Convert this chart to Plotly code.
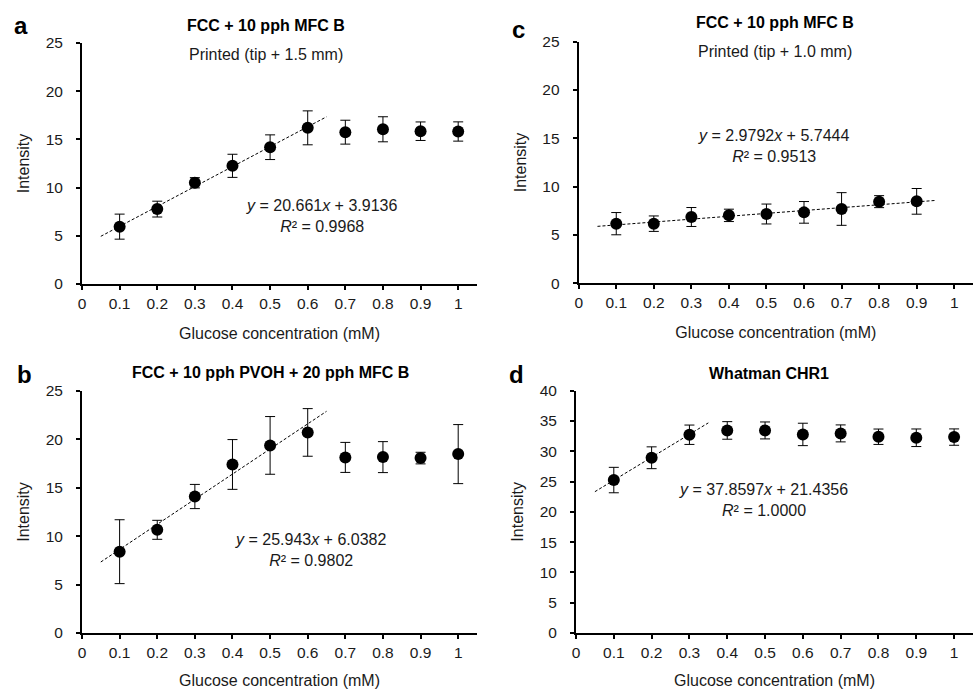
import plotly.graph_objects as go

# ---------------- data ----------------
conc = [0.1, 0.2, 0.3, 0.4, 0.5, 0.6, 0.7, 0.8, 0.9, 1.0]
conc_c = [0.1, 0.2, 0.3, 0.4, 0.5, 0.6, 0.7, 0.8, 0.9]

a_int = [5.95, 7.77, 10.5, 12.26, 14.19, 16.2, 15.75, 16.05, 15.85, 15.82]
a_err = [1.3, 0.82, 0.53, 1.2, 1.28, 1.76, 1.24, 1.3, 0.96, 1.0]

b_int = [8.4, 10.66, 14.1, 17.41, 19.38, 20.72, 18.14, 18.17, 18.07, 18.48]
b_err = [3.3, 0.98, 1.25, 2.57, 2.98, 2.46, 1.55, 1.6, 0.6, 3.05]

c_int = [6.17, 6.17, 6.86, 7.03, 7.17, 7.34, 7.69, 8.45, 8.48]
c_err = [1.15, 0.8, 0.98, 0.64, 1.03, 1.12, 1.69, 0.62, 1.33]

d_int = [25.25, 28.93, 32.73, 33.44, 33.44, 32.78, 32.95, 32.4, 32.23, 32.34]
d_err = [2.1, 1.8, 1.6, 1.45, 1.4, 1.85, 1.4, 1.27, 1.45, 1.35]

# linear fits (slope, intercept) and the x-extent of the dashed trendline
fit_a = (20.661, 3.9136); fit_a_x = [0.05, 0.65]
fit_b = (25.943, 6.0382); fit_b_x = [0.05, 0.65]
fit_c = (2.9792, 5.7444); fit_c_x = [0.05, 0.95]
fit_d = (37.8597, 21.4356); fit_d_x = [0.05, 0.35]

x_ticks = [0, 0.1, 0.2, 0.3, 0.4, 0.5, 0.6, 0.7, 0.8, 0.9, 1.0]
x_ticktext = ["0", "0.1", "0.2", "0.3", "0.4", "0.5", "0.6", "0.7", "0.8", "0.9", "1"]
y_ticks_25 = [0, 5, 10, 15, 20, 25]
y_ticks_40 = [0, 5, 10, 15, 20, 25, 30, 35, 40]

titles = ["FCC + 10 pph MFC B", "FCC + 10 pph PVOH + 20 pph MFC B",
          "FCC + 10 pph MFC B", "Whatman CHR1"]
subtitles = ["Printed (tip + 1.5 mm)", None, "Printed (tip + 1.0 mm)", None]
letters = ["a", "b", "c", "d"]
eq_text = ["<i>y</i> = 20.661<i>x</i> + 3.9136<br><i>R</i>² = 0.9968",
           "<i>y</i> = 25.943<i>x</i> + 6.0382<br><i>R</i>² = 0.9802",
           "<i>y</i> = 2.9792<i>x</i> + 5.7444<br><i>R</i>² = 0.9513",
           "<i>y</i> = 37.8597<i>x</i> + 21.4356<br><i>R</i>² = 1.0000"]

# ---------------- layout geometry (pixels) ----------------
W, H = 973, 689
FONT = "Arial, Liberation Sans, sans-serif"
TXT = "#1a1a1a"

panels = [
    dict(x=conc, y=a_int, e=a_err, fit=fit_a, fx=fit_a_x, px=(82, 477), py=(43, 284),
         ymax=25, yt=y_ticks_25, eq=(0.636, 7.1),
         title=(266, 25), sub=(266, 54), letter=(21, 26)),
    dict(x=conc, y=b_int, e=b_err, fit=fit_b, fx=fit_b_x, px=(82, 477), py=(391, 633),
         ymax=25, yt=y_ticks_25, eq=(0.607, 8.6),
         title=(270, 372), sub=None, letter=(24, 375)),
    dict(x=conc_c, y=c_int, e=c_err, fit=fit_c, fx=fit_c_x, px=(578.7, 973), py=(41.7, 283.3),
         ymax=25, yt=y_ticks_25, eq=(0.519, 14.2),
         title=(775, 22), sub=(775, 51), letter=(518, 29)),
    dict(x=conc, y=d_int, e=d_err, fit=fit_d, fx=fit_d_x, px=(576, 973), py=(390.7, 633),
         ymax=40, yt=y_ticks_40, eq=(0.4965, 22.0),
         title=(769, 373), sub=None, letter=(516, 375)),
]

fig = go.Figure()
annotations = []
layout_axes = {}

for i, p in enumerate(panels):
    n = "" if i == 0 else str(i + 1)
    xa, ya = "x" + n, "y" + n
    x0, x1 = p["px"]
    yt, yb = p["py"]
    layout_axes["xaxis" + n] = dict(
        domain=[x0 / W, x1 / W], anchor=ya, range=[0, 1.05],
        tickvals=x_ticks, ticktext=x_ticktext,
        showline=True, linecolor="black", linewidth=2,
        ticks="outside", ticklen=4, tickwidth=1.5, tickcolor="black",
        showgrid=False, zeroline=False, ticklabelstandoff=0, automargin=False,
        tickfont=dict(family=FONT, size=15.5, color=TXT),
        title=dict(text="Glucose concentration (mM)", standoff=17,
                   font=dict(family=FONT, size=16, color=TXT)),
        fixedrange=True,
    )
    layout_axes["yaxis" + n] = dict(
        domain=[1 - yb / H, 1 - yt / H], anchor=xa, range=[0, p["ymax"]],
        tickvals=p["yt"],
        showline=True, linecolor="black", linewidth=2,
        ticks="outside", ticklen=4, tickwidth=1.5, tickcolor="black",
        showgrid=False, zeroline=False, ticklabelstandoff=10, automargin=False,
        tickfont=dict(family=FONT, size=15.5, color=TXT),
        title=dict(text="Intensity", standoff=12,
                   font=dict(family=FONT, size=16, color=TXT)),
        fixedrange=True,
    )
    m, c = p["fit"]
    fig.add_trace(go.Scatter(
        x=p["fx"], y=[m * v + c for v in p["fx"]], mode="lines",
        line=dict(color="black", width=1, dash="3px,2px"),
        xaxis=xa, yaxis=ya, showlegend=False, hoverinfo="skip"))
    fig.add_trace(go.Scatter(
        x=p["x"], y=p["y"], mode="markers",
        marker=dict(color="black", size=12),
        error_y=dict(type="data", array=p["e"], visible=True,
                     color="black", thickness=1, width=5),
        xaxis=xa, yaxis=ya, showlegend=False))
    annotations.append(dict(
        x=p["eq"][0], y=p["eq"][1], xref=xa, yref=ya, text=eq_text[i],
        showarrow=False, align="center", xanchor="center", yanchor="middle",
        font=dict(family=FONT, size=16, color=TXT)))
    annotations.append(dict(
        x=p["title"][0] / W, y=1 - p["title"][1] / H, xref="paper", yref="paper",
        text="<b>" + titles[i] + "</b>", showarrow=False,
        xanchor="center", yanchor="middle",
        font=dict(family=FONT, size=16, color="black")))
    if subtitles[i]:
        annotations.append(dict(
            x=p["sub"][0] / W, y=1 - p["sub"][1] / H, xref="paper", yref="paper",
            text=subtitles[i], showarrow=False,
            xanchor="center", yanchor="middle",
            font=dict(family=FONT, size=16, color=TXT)))
    annotations.append(dict(
        x=p["letter"][0] / W, y=1 - p["letter"][1] / H, xref="paper", yref="paper",
        text="<b>" + letters[i] + "</b>", showarrow=False,
        xanchor="center", yanchor="middle",
        font=dict(family=FONT, size=24, color="black")))

fig.update_layout(
    width=W, height=H,
    margin=dict(l=0, r=0, t=0, b=0, pad=0, autoexpand=False),
    paper_bgcolor="white", plot_bgcolor="white",
    annotations=annotations,
    **layout_axes,
)

fig.write_html("out.html", config={"displayModeBar": False},
               post_script="document.body.style.margin='0px';")
